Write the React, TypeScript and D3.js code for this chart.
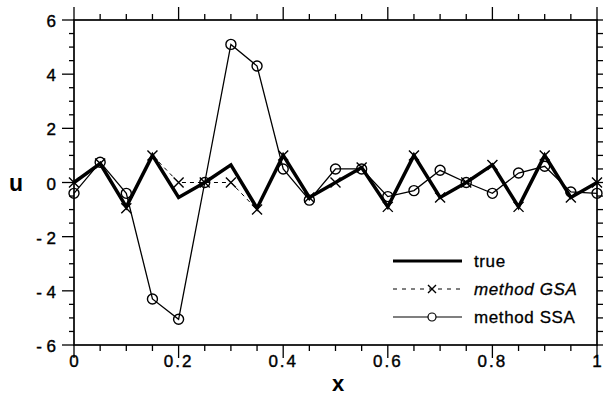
import React, { useRef, useEffect } from "react";
import * as d3 from "d3";

const xs = [0, 0.05, 0.1, 0.15, 0.2, 0.25, 0.3, 0.35, 0.4, 0.45, 0.5, 0.55, 0.6, 0.65, 0.7, 0.75, 0.8, 0.85, 0.9, 0.95, 1];
const trueVals = [0, 0.7, -0.9, 1.0, -0.55, 0, 0.65, -0.95, 1.0, -0.55, 0, 0.55, -0.9, 1.0, -0.55, 0, 0.65, -0.9, 1.0, -0.55, 0];
const gsaVals = [0, 0.7, -0.95, 1.0, 0, 0, 0, -1.0, 1.0, -0.55, 0, 0.55, -0.9, 1.0, -0.55, 0, 0.65, -0.9, 1.0, -0.55, 0];
const ssaVals = [-0.4, 0.75, -0.4, -4.3, -5.05, 0, 5.1, 4.3, 0.5, -0.65, 0.5, 0.5, -0.52, -0.3, 0.45, 0, -0.4, 0.35, 0.6, -0.35, -0.4];

const xTicks = [0, 0.2, 0.4, 0.6, 0.8, 1];
const xTickLabels = ["0", "0.2", "0.4", "0.6", "0.8", "1"];
const yTicks = [-6, -4, -2, 0, 2, 4, 6];
const yTickLabels = ["- 6", "- 4", "- 2", "0", "2", "4", "6"];

export default function App() {
  const ref = useRef<SVGSVGElement>(null);

  useEffect(() => {
    const svg = d3.select(ref.current);
    svg.selectAll("*").remove();

    const font = "'Liberation Sans', Arial, sans-serif";
    const x = d3.scaleLinear().domain([0, 1]).range([74, 597]);
    const y = d3.scaleLinear().domain([-6, 6]).range([345, 20]);

    svg.append("rect").attr("width", 606).attr("height", 395).attr("fill", "#fff");

    // minor / major ticks, all pointing out of the frame
    const xMinor = d3.range(0, 1.0001, 0.05);
    const yMinor = d3.range(-6, 6.0001, 0.5);
    const isMajorX = (v: number) => Math.abs(v * 5 - Math.round(v * 5)) < 1e-6;
    const isMajorY = (v: number) => Math.abs(v / 2 - Math.round(v / 2)) < 1e-6;

    const ticks = svg.append("g").attr("stroke", "#000").attr("stroke-width", 1.3);
    xMinor.forEach(v => {
      const len = isMajorX(v) ? 13 : 6;
      ticks.append("line").attr("x1", x(v)).attr("x2", x(v)).attr("y1", y(-6)).attr("y2", y(-6) + len);
      ticks.append("line").attr("x1", x(v)).attr("x2", x(v)).attr("y1", y(6)).attr("y2", y(6) - len);
    });
    yMinor.forEach(v => {
      const len = isMajorY(v) ? 12 : 5;
      ticks.append("line").attr("y1", y(v)).attr("y2", y(v)).attr("x1", x(0)).attr("x2", x(0) - len);
      ticks.append("line").attr("y1", y(v)).attr("y2", y(v)).attr("x1", x(1)).attr("x2", x(1) + 6);
    });

    svg.append("rect")
      .attr("x", x(0)).attr("y", y(6))
      .attr("width", x(1) - x(0)).attr("height", y(-6) - y(6))
      .attr("fill", "none").attr("stroke", "#000").attr("stroke-width", 1.7);

    // tick labels
    xTicks.forEach((v, i) => {
      svg.append("text")
        .attr("x", x(v)).attr("y", 367)
        .attr("text-anchor", "middle")
        .attr("font-family", font).attr("font-size", 17)
        .attr("stroke", "#000").attr("stroke-width", 0.4)
        .attr("letter-spacing", i === 0 || i === 5 ? 0 : 2)
        .text(xTickLabels[i]);
    });
    yTicks.forEach((v, i) => {
      svg.append("text")
        .attr("x", 56).attr("y", y(v) + 7)
        .attr("text-anchor", "end")
        .attr("font-family", font).attr("font-size", 17)
        .attr("stroke", "#000").attr("stroke-width", 0.4)
        .text(yTickLabels[i]);
    });

    svg.append("text").attr("x", 16).attr("y", 191).attr("text-anchor", "middle")
      .attr("font-family", font).attr("font-size", 23).attr("font-weight", "bold").text("u");
    svg.append("text").attr("x", 338).attr("y", 391).attr("text-anchor", "middle")
      .attr("font-family", font).attr("font-size", 22).attr("font-weight", "bold").text("x");

    const line = d3.line<number>().x((d, i) => x(xs[i])).y(d => y(d));

    // GSA dashed with x markers
    svg.append("path").datum(gsaVals).attr("d", line)
      .attr("fill", "none").attr("stroke", "#000").attr("stroke-width", 1).attr("stroke-dasharray", "4,4");
    const cross = (g: any, cx: number, cy: number, s: number) => {
      g.append("path")
        .attr("d", `M${cx - s},${cy - s}L${cx + s},${cy + s}M${cx - s},${cy + s}L${cx + s},${cy - s}`)
        .attr("stroke", "#000").attr("stroke-width", 1.4).attr("fill", "none");
    };
    gsaVals.forEach((d, i) => cross(svg, x(xs[i]), y(d), 5));

    // SSA thin line with circles
    svg.append("path").datum(ssaVals).attr("d", line)
      .attr("fill", "none").attr("stroke", "#000").attr("stroke-width", 1.3);
    svg.append("g").selectAll("circle").data(ssaVals).join("circle")
      .attr("cx", (d, i) => x(xs[i])).attr("cy", d => y(d)).attr("r", 5)
      .attr("fill", "none").attr("stroke", "#000").attr("stroke-width", 1.4);

    // true: thick line
    svg.append("path").datum(trueVals).attr("d", line)
      .attr("fill", "none").attr("stroke", "#000").attr("stroke-width", 3.5).attr("stroke-linejoin", "miter");

    // legend
    const lg = svg.append("g");
    const lx0 = 393, lx1 = 462, lmid = 432;
    lg.append("line").attr("x1", lx0).attr("x2", lx1).attr("y1", 261).attr("y2", 261)
      .attr("stroke", "#000").attr("stroke-width", 3);
    lg.append("line").attr("x1", lx0).attr("x2", lx1).attr("y1", 289).attr("y2", 289)
      .attr("stroke", "#000").attr("stroke-width", 1).attr("stroke-dasharray", "4,5");
    cross(lg, lmid, 289, 4);
    lg.append("line").attr("x1", lx0).attr("x2", lx1).attr("y1", 317).attr("y2", 317)
      .attr("stroke", "#000").attr("stroke-width", 1.2);
    lg.append("circle").attr("cx", lmid).attr("cy", 317).attr("r", 4)
      .attr("fill", "#fff").attr("stroke", "#000").attr("stroke-width", 1.2);

    const labels = [
      { t: "true", y: 267, italic: false },
      { t: "method GSA", y: 295, italic: true },
      { t: "method SSA", y: 323, italic: false },
    ];
    labels.forEach(l => {
      lg.append("text").attr("x", 474).attr("y", l.y)
        .attr("font-family", font).attr("font-size", 17).attr("letter-spacing", 0.6)
        .attr("stroke", "#000").attr("stroke-width", 0.3)
        .attr("font-style", l.italic ? "italic" : "normal")
        .text(l.t);
    });
  }, []);

  return (
    <svg ref={ref} width={606} height={395} style={{ position: "absolute", left: 0, top: 0 }}></svg>
  );
}
